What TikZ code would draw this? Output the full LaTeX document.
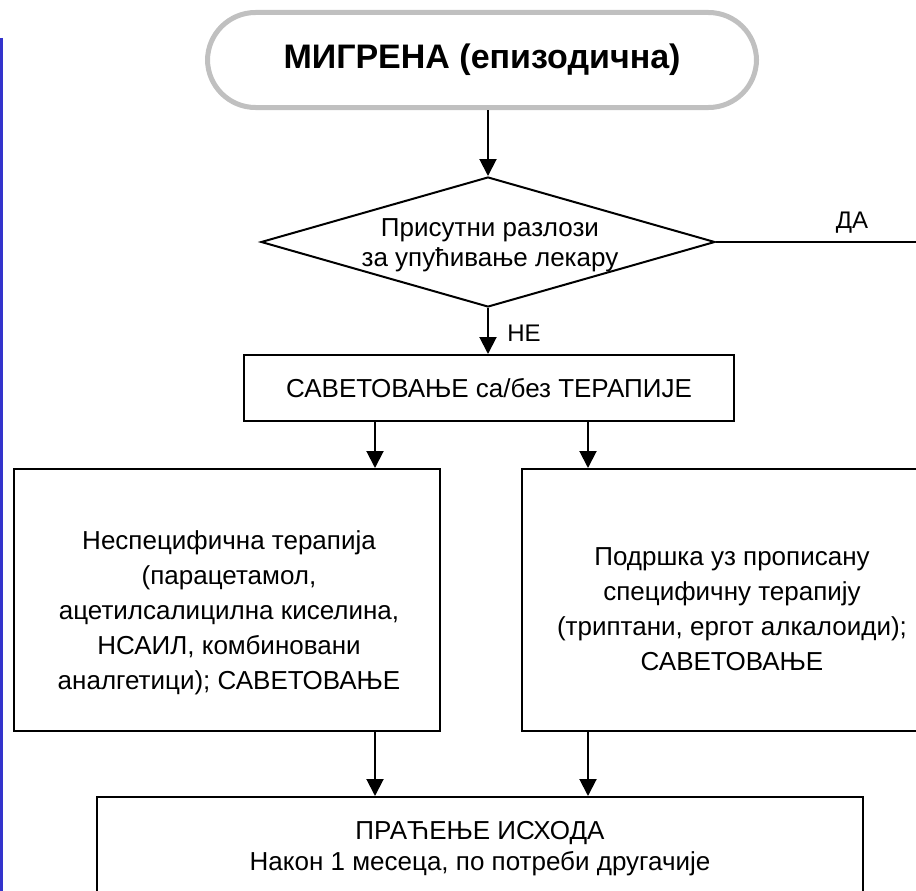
\documentclass[tikz,border=0pt]{standalone}
\usepackage{fontspec}
\setmainfont{Liberation Sans}
\usetikzlibrary{arrows.meta,shapes.geometric}

\definecolor{framegray}{RGB}{192,192,192}
\definecolor{edgeblue}{RGB}{51,51,204}

\begin{document}
\begin{tikzpicture}[x=1pt,y=-1pt,
        box/.style={draw, line width=2pt, align=center, inner sep=0pt,
            font=\fontsize{26}{35}\selectfont},
        boxtext/.style={align=center, inner sep=0pt, font=\fontsize{26}{35}\selectfont},
        decision/.style={draw, diamond, line width=2pt, inner sep=0pt,
            minimum width=454pt, minimum height=130pt},
        lbl/.style={font=\fontsize{24}{28}\selectfont},
        arr/.style={line width=2pt, -{Triangle[length=17pt,width=17pt]}}]
    \useasboundingbox (0,0) rectangle (916,891);
    \clip (0,0) rectangle (916,891);
    \draw[edgeblue, line width=3pt] (1.5,38) -- (1.5,891);
    % start
    \node[draw=framegray, line width=5pt, rounded corners=48pt,
        minimum width=549pt, minimum height=95pt,
        font=\fontsize{34}{40}\selectfont\bfseries] (start) at (482,60)
        {МИГРЕНА (епизодична)};
    \node[decision] (ask) at (488,242) {};
    \node[align=center, font=\fontsize{26}{30}\selectfont] (asktext) at (490,245)
        {Присутни разлози\\за упућивање лекару};
    \node[box, minimum width=490pt, minimum height=66pt] (advice) at (489,388)
        {САВЕТОВАЊЕ са/без ТЕРАПИЈЕ};
    \node[box, minimum width=426pt, minimum height=262pt] (lbox) at (227,600) {};
    \node[boxtext] (ltext) at (229,613)
        {Неспецифична терапија\\(парацетамол,\\ацетилсалицилна киселина,\\НСАИЛ, комбиновани\\аналгетици); САВЕТОВАЊЕ};
    \node[box, minimum width=420pt, minimum height=262pt] (rbox) at (732,600) {};
    \node[boxtext] (rtext) at (732,609)
        {Подршка уз прописану\\специфичну терапију\\(триптани, ергот алкалоиди);\\САВЕТОВАЊЕ};
    \node[box, minimum width=766pt, minimum height=104pt,
        font=\fontsize{26}{31}\selectfont] (outcome) at (480,849)
        {ПРАЋЕЊЕ ИСХОДА\\Након 1 месеца, по потреби другачије};
    \coordinate (yes) at (916,242);
    \coordinate (cl) at (375,0);
    \coordinate (cr) at (588,0);
    % connectors
    \draw[arr] (start.south -| ask.north) -- (ask.north);
    \draw[arr] (ask.south) -- node[lbl, right=15pt, pos=0.55] (no) {НЕ} (advice.north -| ask.south);
    \draw[line width=2pt] (ask.east) -- node[lbl, above=4pt, pos=0.68] (yeslbl) {ДА} (yes);
    \draw[arr] (advice.south -| cl) -- (lbox.north -| cl);
    \draw[arr] (advice.south -| cr) -- (rbox.north -| cr);
    \draw[arr] (lbox.south -| cl) -- (outcome.north -| cl);
    \draw[arr] (rbox.south -| cr) -- (outcome.north -| cr);
\end{tikzpicture}
\end{document}
